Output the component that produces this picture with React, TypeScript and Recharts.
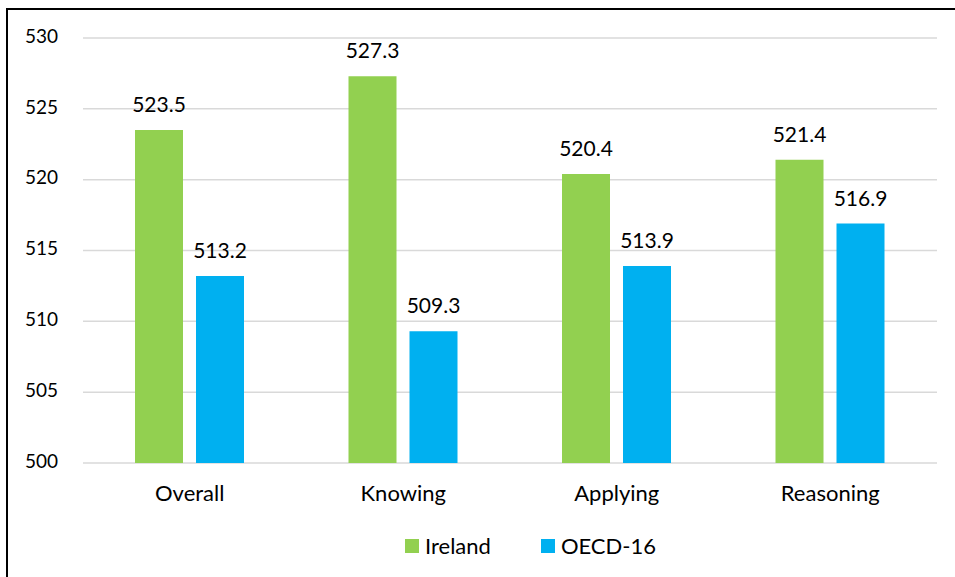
import React from 'react';
import { BarChart, Bar, XAxis, YAxis, CartesianGrid, Legend, LabelList } from 'recharts';

const categories = ['Overall', 'Knowing', 'Applying', 'Reasoning'];
const irelandValues = [523.5, 527.3, 520.4, 521.4];
const oecdValues = [513.2, 509.3, 513.9, 516.9];
const yTicks = [500, 505, 510, 515, 520, 525, 530];

const seriesNames = ['Ireland', 'OECD-16'];
const seriesColors = ['#92D050', '#00B0F0'];

const data = categories.map((c, i) => ({
  name: c,
  ireland: irelandValues[i],
  oecd: oecdValues[i],
}));

const FONT = 'Lato, "Open Sans", sans-serif';

const LegendContent = () => (
  <div style={{ display: 'flex', alignItems: 'center', height: 20, fontFamily: FONT, fontSize: 22, color: '#000' }}>
    {seriesNames.map((n, i) => (
      <div key={n} style={{ display: 'flex', alignItems: 'center', marginLeft: i === 0 ? 0 : 50 }}>
        <div style={{ width: 14, height: 14, background: seriesColors[i], marginRight: 6 }} />
        <span style={{ lineHeight: '20px' }}>{n}</span>
      </div>
    ))}
  </div>
);

export default function App() {
  return (
    <div style={{ position: 'fixed', left: 0, top: 0, width: 955, height: 577, overflow: 'hidden', background: '#fff' }}>
      <div style={{ position: 'absolute', left: 6, top: 8, width: 1000, height: 700, borderLeft: '2px solid #000', borderTop: '2px solid #000', boxSizing: 'border-box' }} />
      <div style={{ position: 'absolute', left: 0, top: 0 }}>
        <BarChart
          width={955}
          height={577}
          data={data}
          margin={{ top: 38, right: 18, left: 0, bottom: 54 }}
          barGap={13}
        >
          <CartesianGrid vertical={false} stroke="#D9D9D9" strokeWidth={1.5} />
          <XAxis
            dataKey="name"
            axisLine={false}
            tickLine={false}
            tickSize={0}
            tickMargin={22}
            height={60}
            tick={{ fill: '#000', fontSize: 22, fontFamily: FONT }}
          />
          <YAxis
            domain={[500, 530]}
            ticks={yTicks}
            axisLine={false}
            tickLine={false}
            tickSize={0}
            tickMargin={25}
            width={83}
            interval={0}
            tick={{ fill: '#000', fontSize: 19, fontFamily: FONT, dy: -2 }}
          />
          <Legend
            verticalAlign="middle"
            align="center"
            layout="horizontal"
            content={<LegendContent />}
            wrapperStyle={{ position: 'absolute', top: 536, left: 405, width: 400 }}
          />
          <Bar dataKey="ireland" name="Ireland" fill={seriesColors[0]} barSize={48} isAnimationActive={false}>
            <LabelList dataKey="ireland" position="top" offset={18} fill="#000" fontSize={21} fontFamily={FONT} formatter={(v: number) => v.toFixed(1)} />
          </Bar>
          <Bar dataKey="oecd" name="OECD-16" fill={seriesColors[1]} barSize={48} isAnimationActive={false}>
            <LabelList dataKey="oecd" position="top" offset={18} fill="#000" fontSize={21} fontFamily={FONT} formatter={(v: number) => v.toFixed(1)} />
          </Bar>
        </BarChart>
      </div>
    </div>
  );
}
